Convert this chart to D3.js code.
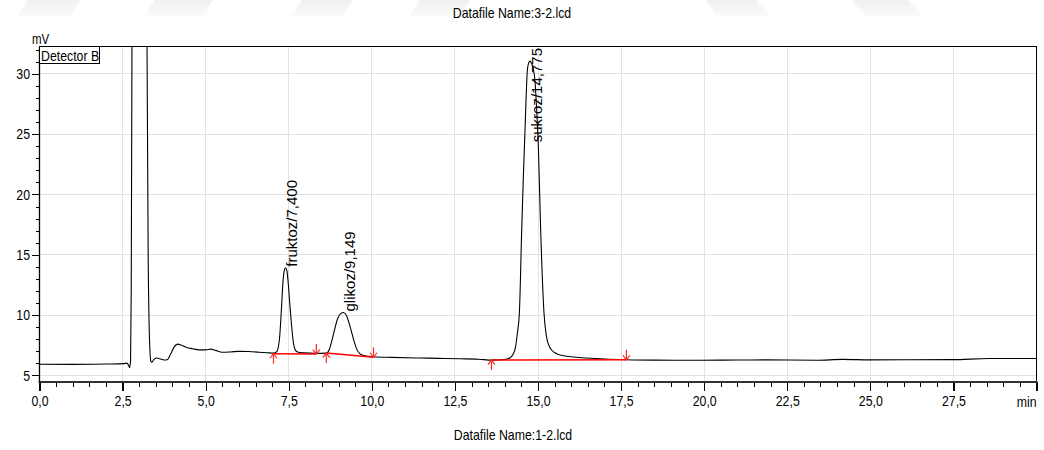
<!DOCTYPE html>
<html><head><meta charset="utf-8">
<script src="https://cdn.jsdelivr.net/npm/d3@7"></script>
<style>
html,body{margin:0;padding:0;background:#fff;}
svg{display:block;}
</style></head><body>
<svg id="chart" width="1044" height="450"></svg>
<script>
// ---------- DATA ----------
const times = [0, 1.0, 2.0, 2.55, 2.62, 2.68, 2.71, 2.74, 2.76, 2.79, 2.85, 3.0, 3.15, 3.22, 3.27, 3.31, 3.35, 3.38,
  3.45, 3.52, 3.62, 3.75, 3.84, 3.95, 4.05, 4.15, 4.28, 4.45, 4.6, 4.8, 5.0, 5.15, 5.3, 5.5, 5.75, 6.0, 6.3, 6.6, 6.85,
  7.04, 7.14, 7.22, 7.28, 7.33, 7.37, 7.40, 7.44, 7.48, 7.53, 7.58, 7.64, 7.70, 7.76, 7.95, 8.3,
  8.63, 8.72, 8.80, 8.88, 8.97, 9.06, 9.15, 9.24, 9.32, 9.40, 9.48, 9.56, 9.65, 9.75,
  10.05, 10.6, 11.4, 12.0, 12.65, 13.2, 13.6, 13.9, 14.15, 14.25, 14.32, 14.38, 14.44, 14.51, 14.56, 14.61, 14.68,
  14.72, 14.76, 14.80, 14.85, 14.91, 14.96, 15.01, 15.08, 15.18, 15.25, 15.36, 15.5, 15.66, 16.0, 16.46, 17.0, 17.66,
  18.5, 19.87, 21.0, 21.88, 23.38, 24.17, 24.98, 26.0, 27.47, 28.58, 30.0];
const signal = [5.93, 5.92, 5.95, 5.98, 6.02, 5.85, 5.65, 6.2, 12, 40, 120, 150, 120, 40, 15, 8, 6.2, 6.1,
  6.35, 6.45, 6.38, 6.28, 6.3, 6.8, 7.35, 7.6, 7.5, 7.3, 7.22, 7.12, 7.12, 7.18, 7.08, 6.92, 6.95, 7.0, 6.98, 6.93, 6.88,
  6.85, 6.98, 8.0, 10.5, 12.9, 13.75, 13.93, 13.75, 12.8, 11.0, 9.3, 7.7, 7.1, 6.95, 6.87, 6.83,
  6.85, 7.15, 7.9, 8.8, 9.7, 10.12, 10.22, 9.95, 9.3, 8.5, 7.7, 7.1, 6.78, 6.66,
  6.55, 6.5, 6.45, 6.42, 6.38, 6.35, 6.27, 6.3, 6.45, 6.75, 7.3, 8.5, 10.2, 17.1, 21.5, 25.4, 30.3,
  30.9, 31.05, 30.9, 30.5, 29.4, 27.0, 24.0, 17.1, 10.2, 8.3, 7.3, 6.9, 6.7, 6.55, 6.45, 6.36, 6.3,
  6.27, 6.26, 6.28, 6.29, 6.26, 6.33, 6.29, 6.3, 6.31, 6.4, 6.4];

const xMajorTicks = [0, 2.5, 5, 7.5, 10, 12.5, 15, 17.5, 20, 22.5, 25, 27.5, 30];
const xTickLabels = ["0,0", "2,5", "5,0", "7,5", "10,0", "12,5", "15,0", "17,5", "20,0", "22,5", "25,0", "27,5", ""];
const yMajorTicks = [5, 10, 15, 20, 25, 30];
const yTickLabels = ["5", "10", "15", "20", "25", "30"];

const peakNames = ["fruktoz/7,400", "glikoz/9,149", "sukroz/14,775"];
const peakTimes = [7.400, 9.149, 14.775];
const peakHeights = [13.93, 10.22, 31.05];

const baseStartT = [7.04, 8.63, 13.60];
const baseStartV = [6.80, 6.86, 6.28];
const baseEndT = [8.33, 10.05, 17.66];
const baseEndV = [6.77, 6.51, 6.30];

const titleTop = "Datafile Name:3-2.lcd";
const titleBottom = "Datafile Name:1-2.lcd";
const detectorLabel = "Detector B";
const yUnit = "mV";
const xUnit = "min";

// ---------- FONT CHECK ----------
function fontAvailable(name) {
  const c = document.createElement("canvas").getContext("2d");
  const s = "Datafile Name:3-2.lcd 0123456789";
  c.font = "20px monospace"; const a = c.measureText(s).width;
  c.font = `20px "${name}", monospace`; const b = c.measureText(s).width;
  return Math.abs(a - b) > 0.5;
}
const hasNarrow = fontAvailable("Liberation Sans Narrow");
const narrowFamily = hasNarrow ? '"Liberation Sans Narrow", "Arial Narrow", sans-serif' : '"Liberation Sans", Arial, sans-serif';
function narrowize(sel) {
  sel.style("font-family", narrowFamily);
  if (!hasNarrow) {
    sel.each(function () {
      const L = this.getComputedTextLength();
      if (L > 0) { this.setAttribute("textLength", L * 0.82); this.setAttribute("lengthAdjust", "spacingAndGlyphs"); }
    });
  }
}

// ---------- SCALES ----------
const svg = d3.select("#chart");
const L = 39.5, R = 1036.5, T = 46.5, B = 381.5;
const x = d3.scaleLinear().domain([0, 30]).range([L, R]);
const y = d3.scaleLinear().domain([4.5, 32.26]).range([B, T]);

// ---------- WATERMARK ----------
const wm = svg.append("g");
const defs = svg.append("defs");
const grad = defs.append("linearGradient").attr("id", "wmg").attr("x1", 0).attr("y1", 0).attr("x2", 0).attr("y2", 1);
grad.append("stop").attr("offset", "0%").attr("stop-color", "#f0f0f0");
grad.append("stop").attr("offset", "100%").attr("stop-color", "#fbfbfb");
const wmShapes = [
  [[28,0],[80,0],[70,17],[17,17]],
  [[155,0],[213,0],[202,17],[143,17]],
  [[302,0],[353,0],[342,17],[290,17]],
  [[420,0],[470,0],[458,17],[408,17]],
  [[706,0],[756,0],[770,17],[718,17]],
  [[852,0],[908,0],[922,17],[866,17]]
];
wm.selectAll("path").data(wmShapes).join("path")
  .attr("d", d => "M" + d.map(p => p.join(",")).join("L") + "Z")
  .attr("fill", "url(#wmg)");

// ---------- GRID ----------
const grid = svg.append("g").attr("stroke", "#e2e2e2").attr("stroke-width", 1).attr("shape-rendering", "crispEdges");
grid.selectAll("line.v").data(xMajorTicks.filter(d => d > 0 && d < 30)).join("line")
  .attr("x1", d => x(d)).attr("x2", d => x(d)).attr("y1", T).attr("y2", B);
grid.selectAll("line.h").data(yMajorTicks).join("line")
  .attr("x1", L).attr("x2", R).attr("y1", d => y(d)).attr("y2", d => y(d));

// ---------- TRACE ----------
defs.append("clipPath").attr("id", "plotclip").append("rect")
  .attr("x", L).attr("y", T).attr("width", R - L).attr("height", B - T);
const pts = times.map((t, i) => [t, signal[i]]);
const line = d3.line().x(d => x(d[0])).y(d => y(d[1])).curve(d3.curveMonotoneX);
svg.append("path").datum(pts).attr("clip-path", "url(#plotclip)")
  .attr("d", line).attr("fill", "none").attr("stroke", "#000").attr("stroke-width", 1.1);

// ---------- INTEGRATION BASELINES ----------
const red = "#ff0000";
const bl = svg.append("g");
baseStartT.forEach((t0, i) => {
  const x0 = x(t0), y0 = y(baseStartV[i]), x1 = x(baseEndT[i]), y1 = y(baseEndV[i]);
  bl.append("line").attr("x1", x0).attr("y1", y0).attr("x2", x1).attr("y2", y1)
    .attr("stroke", red).attr("stroke-width", 1.5);
  bl.append("path").attr("d", `M${x0},${y0 + 10}L${x0},${y0}M${x0 - 3.5},${y0 + 4.5}L${x0},${y0}L${x0 + 3.5},${y0 + 4.5}`)
    .attr("fill", "none").attr("stroke", "#ff2a2a").attr("stroke-width", 1.2);
  bl.append("path").attr("d", `M${x1},${y1 - 10}L${x1},${y1}M${x1 - 3.5},${y1 - 4.5}L${x1},${y1}L${x1 + 3.5},${y1 - 4.5}`)
    .attr("fill", "none").attr("stroke", "#ff2a2a").attr("stroke-width", 1.2);
});

// ---------- AXES ----------
const xMinor = d3.range(0, 30.001, 0.5);
const yMinor = d3.range(5, 32.001, 1);
svg.append("g").attr("transform", `translate(0,${B})`)
  .call(d3.axisBottom(x).tickValues(xMinor).tickSize(5).tickFormat(""))
  .call(g => g.select(".domain").remove())
  .call(g => g.selectAll("line").attr("stroke", "#000").attr("shape-rendering", "crispEdges"));
const xAx = svg.append("g").attr("transform", `translate(0,${B})`)
  .call(d3.axisBottom(x).tickValues(xMajorTicks).tickSize(9).tickFormat((d, i) => xTickLabels[i]))
  .call(g => g.select(".domain").remove())
  .call(g => g.selectAll("line").attr("stroke", "#000").attr("stroke-width", 1.2).attr("shape-rendering", "crispEdges"));
xAx.selectAll("text").attr("y", 14).attr("fill", "#000").style("font-size", "15px");
narrowize(xAx.selectAll("text"));

svg.append("g").attr("transform", `translate(${L},0)`)
  .call(d3.axisLeft(y).tickValues(yMinor).tickSize(4).tickFormat(""))
  .call(g => g.select(".domain").remove())
  .call(g => g.selectAll("line").attr("stroke", "#000").attr("shape-rendering", "crispEdges"));
const yAx = svg.append("g").attr("transform", `translate(${L},0)`)
  .call(d3.axisLeft(y).tickValues(yMajorTicks).tickSize(8).tickPadding(1.5).tickFormat((d, i) => yTickLabels[i]))
  .call(g => g.select(".domain").remove())
  .call(g => g.selectAll("line").attr("stroke", "#000").attr("shape-rendering", "crispEdges"));
yAx.selectAll("text").attr("fill", "#000").style("font-size", "15px");
narrowize(yAx.selectAll("text"));

// ---------- FRAME ----------
svg.append("rect").attr("x", L).attr("y", T).attr("width", R - L).attr("height", B - T)
  .attr("fill", "none").attr("stroke", "#000").attr("stroke-width", 1).attr("shape-rendering", "crispEdges");
svg.append("line").attr("x1", L - 1).attr("x2", R + 1).attr("y1", B + 0.5).attr("y2", B + 0.5)
  .attr("stroke", "#333").attr("stroke-width", 2);
svg.append("line").attr("x1", L).attr("x2", L).attr("y1", T).attr("y2", B)
  .attr("stroke", "#000").attr("stroke-width", 1.3);

// ---------- DETECTOR BOX ----------
svg.append("rect").attr("x", L).attr("y", T).attr("width", 60).attr("height", 17)
  .attr("fill", "#fff").attr("stroke", "#000").attr("stroke-width", 1).attr("shape-rendering", "crispEdges");
const det = svg.append("text").attr("x", L + 1.5).attr("y", T + 14).text(detectorLabel)
  .style("font-size", "15px").attr("fill", "#000");
narrowize(det);

// ---------- UNITS & TITLES ----------
const mv = svg.append("text").attr("x", 32).attr("y", 44).text(yUnit).style("font-size", "14px");
narrowize(mv);
const mn = svg.append("text").attr("x", R).attr("y", 406.5).attr("text-anchor", "end").text(xUnit).style("font-size", "15px");
narrowize(mn);
const t1 = svg.append("text").attr("x", 512).attr("y", 18).attr("text-anchor", "middle").text(titleTop).style("font-size", "15px");
narrowize(t1);
const t2 = svg.append("text").attr("x", 513).attr("y", 440).attr("text-anchor", "middle").text(titleBottom).style("font-size", "15px");
narrowize(t2);

// ---------- PEAK LABELS ----------
peakNames.forEach((name, i) => {
  const px = x(peakTimes[i]) + 11.5;
  let py = y(peakHeights[i]) - 1;
  const tx = svg.append("text").attr("text-anchor", "start")
    .style("font-family", '"Liberation Sans", Arial, sans-serif').style("font-size", "15px")
    .attr("fill", "#000").text(name);
  const len = tx.node().getComputedTextLength();
  if (py - len < T + 1.5) py = T + 1.5 + len;
  tx.attr("transform", `translate(${px},${py}) rotate(-90)`);
});
</script>
</body></html>
